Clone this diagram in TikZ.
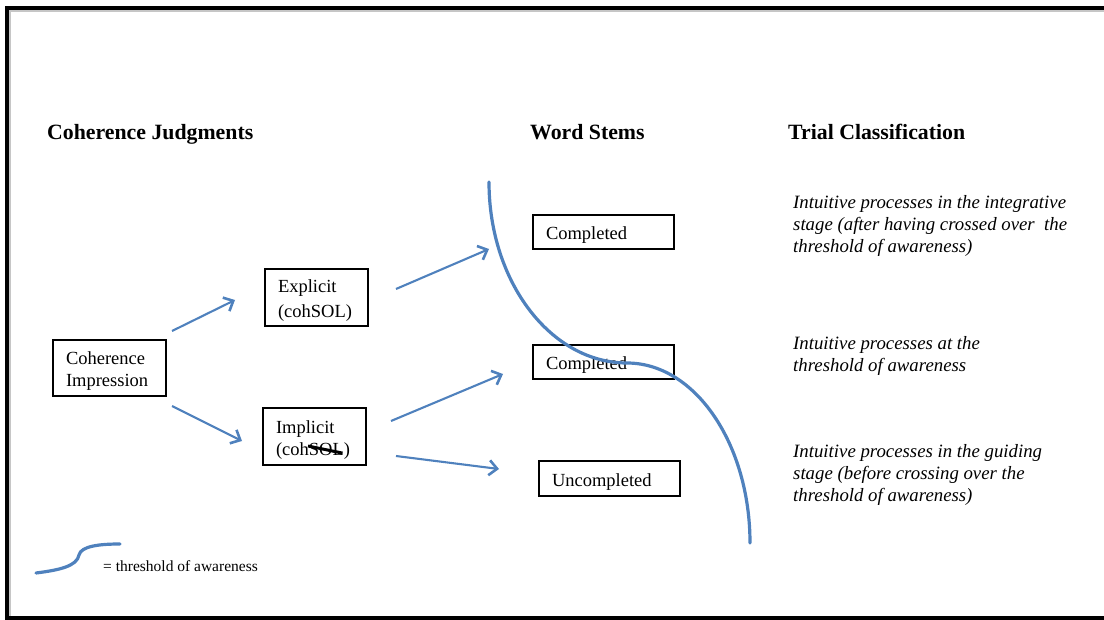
\documentclass[tikz,border=0pt]{standalone}
\usepackage{fontspec}
\setmainfont{Liberation Serif}
\usetikzlibrary{arrows.meta}

\definecolor{arrblue}{RGB}{79,129,189}
\newcommand{\headfont}{\fontsize{21.8}{25}\selectfont\bfseries}
\newcommand{\boxfont}{\fontsize{18.5}{22}\selectfont}
\newcommand{\notefont}{\fontsize{18.8}{22}\selectfont\itshape}

\begin{document}
\begin{tikzpicture}%
		[x=1pt, y=-1pt,
		>={Straight Barb[length=8pt,width=15pt,line width=2.6pt]},
		arr/.style={->, draw=arrblue, line width=2.1pt},
		curve/.style={draw=arrblue, line width=3.2pt, line cap=round}
		]
		\tikzstyle{box}=[draw, line width=2.2pt, inner xsep=12pt, inner ysep=0pt, align=left, font=\boxfont,
		                 text height=19pt]
		\tikzstyle{head}=[anchor=base west, inner sep=0pt, font=\headfont]
		\tikzstyle{note}=[anchor=north west, inner sep=0pt, align=left, font=\notefont]
		\useasboundingbox (0,0) rectangle (1104,620);
		% frame
		\draw[gray!45, line width=2pt] (1104,11) -- (10,11) -- (10,616);
		\draw[line width=3.8pt] (1110,8) -- (7,8) -- (7,618) -- (1110,618);
		
		% headers
		\node[head] (hcj) at (47,140)  {Coherence Judgments};
		\node[head] (hws) at (530,140) {Word Stems};
		\node[head] (htc) at (788,140) {Trial Classification};
		
		% boxes
		\node[box, minimum width=113pt, minimum height=56pt, text width=87pt] (ci) at (109.5,368) {Coherence\\Impression};
		\node[box, minimum width=103pt, minimum height=57pt, text width=77pt, font=\fontsize{18.5}{24.5}\selectfont] (ex) at (316.5,297.5) {Explicit\\(cohSOL)};
		\node[box, minimum width=103pt, minimum height=57pt, text width=77pt] (im) at (314.5,436.5) {Implicit\\(cohSOL)};
		\node[box, minimum width=141pt, minimum height=34pt, text width=115pt] (c1) at (603.5,232) {Completed};
		\node[box, minimum width=141pt, minimum height=34pt, text width=115pt] (c2) at (603.5,362) {Completed};
		\node[box, minimum width=141pt, minimum height=35pt, text width=115pt] (un) at (609.5,478.5) {Uncompleted};
		
		% SOL crossed out
		\draw[line width=3pt] (308,446) -- (342,453);
		
		% classification notes
		\node[note] (n1) at (793,195) {Intuitive processes in the integrative\\stage (after having crossed over~ the\\threshold of awareness)};
		\node[note] (n2) at (793,336) {Intuitive processes at the\\threshold of awareness};
		\node[note] (n3) at (793,444) {Intuitive processes in the guiding\\stage (before crossing over the\\threshold of awareness)};
		
		% arrow ends
		\coordinate (a1s) at (172,331); \coordinate (a1e) at (235,300);
		\coordinate (a2s) at (172,406); \coordinate (a2e) at (242,441);
		\coordinate (a3s) at (396,289); \coordinate (a3e) at (489,249);
		\coordinate (a4s) at (391,421); \coordinate (a4e) at (503,374);
		\coordinate (a5s) at (396,456); \coordinate (a5e) at (499,469);
		\draw[arr] (a1s) -- (a1e);
		\draw[arr] (a2s) -- (a2e);
		\draw[arr] (a3s) -- (a3e);
		\draw[arr] (a4s) -- (a4e);
		\draw[arr] (a5s) -- (a5e);
		
		% threshold of awareness
		\coordinate (t0) at (489,182);
		\coordinate (t1) at (627,363);
		\coordinate (t2) at (750,543);
		\draw[curve] (t0) .. controls (489,282) and (551,363) .. (t1)
		                  .. controls (695,363) and (750,444) .. (t2);
		
		% legend
		\coordinate (l0) at (36,573);
		\coordinate (l1) at (79,555);
		\coordinate (l2) at (120,544);
		\draw[curve] (l0) .. controls (60,570) and (77,566) .. (l1)
		                  .. controls (81,546) and (100,544) .. (l2);
		\node[anchor=base west, inner sep=0pt, font=\fontsize{15.5}{18}\selectfont] (leg) at (103,571) {= threshold of awareness};
		\end{tikzpicture}
\end{document}
